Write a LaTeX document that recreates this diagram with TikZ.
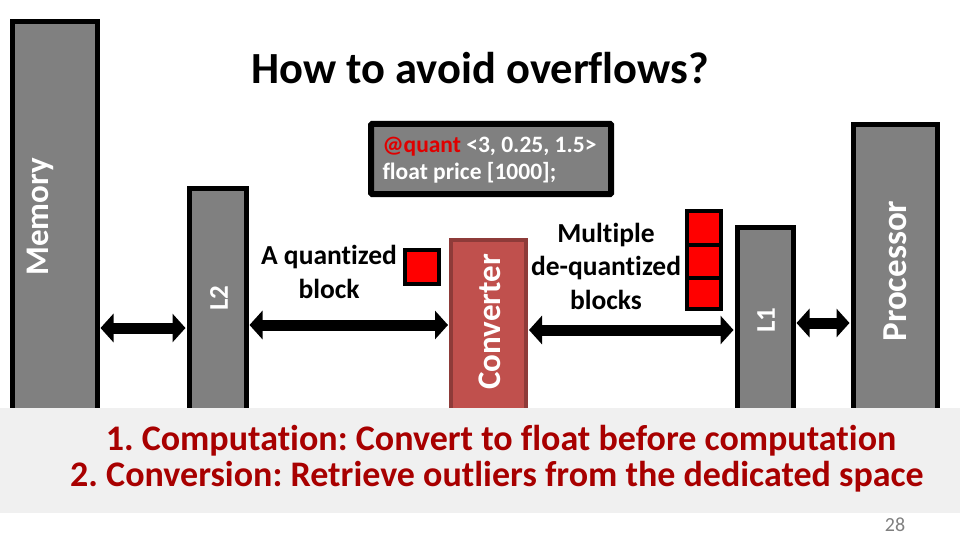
\documentclass[tikz,border=0pt]{standalone}
\usepackage{fontspec}
\setmainfont{Carlito}[Ligatures=NoCommon]
\usetikzlibrary{arrows.meta}
\frenchspacing
\definecolor{boxgray}{HTML}{808080}
\definecolor{bandgray}{HTML}{F0F0F0}
\definecolor{convred}{HTML}{C0504D}
\definecolor{convedge}{HTML}{8E3B39}
\definecolor{textred}{HTML}{A80000}
\definecolor{quantred}{HTML}{E00000}
\definecolor{pagegray}{HTML}{7F7F7F}
\tikzset{
  unitbox/.style={draw=black, line width=5pt, fill=boxgray},
  boxlabel/.style={text=white, font=\bfseries\fontsize{33}{38}\selectfont, rotate=90},
  smalllabel/.style={text=white, font=\bfseries\fontsize{27}{32}\selectfont, rotate=90},
  bigarrow/.style={line width=11pt, {Triangle[length=13pt,width=28pt]}-{Triangle[length=13pt,width=28pt]}, shorten <=1pt, shorten >=1pt},
  blockcell/.style={draw=black, line width=4pt, fill=red},
  midtext/.style={font=\bfseries\fontsize{27.5}{33.5}\selectfont, align=center, text=black},
  redline/.style={text=textred, font=\bfseries\fontsize{36}{38}\selectfont},
}
\begin{document}
\begin{tikzpicture}[x=1pt,y=-1pt]
\useasboundingbox (0,0) rectangle (960,540);
% boxes
\draw[unitbox] (12,22) rectangle (97,420);
\node[boxlabel] (memlab) at (40,217) {Memory};
\draw[unitbox] (189,188) rectangle (246,420);
\node[smalllabel] (l2lab) at (219,298) {L2};
\draw[draw=convedge, line width=3.5pt, fill=convred] (451,240) rectangle (526,420);
\node[boxlabel] (convlab) at (490,322) {Converter};
\draw[unitbox] (737,227) rectangle (793,420);
\node[smalllabel] (l1lab) at (766,320) {L1};
\draw[unitbox] (853,125) rectangle (937,420);
\node[boxlabel, font=\bfseries\fontsize{35}{40}\selectfont] (proclab) at (895,271) {Processor};
% anchors for arrows
\coordinate (memR) at (99.5,328);
\coordinate (l2L) at (186.5,328);
\coordinate (l2R) at (248.5,325);
\coordinate (convL) at (449,325);
\coordinate (convR) at (528,330);
\coordinate (l1L) at (734.5,330);
\coordinate (l1R) at (795.5,323);
\coordinate (procL) at (850.5,323);
\draw[bigarrow] (memR) -- (l2L);
\draw[bigarrow] (l2R) -- (convL);
\draw[bigarrow] (convR) -- (l1L);
\draw[bigarrow] (l1R) -- (procL);
% code box
\draw[draw=black, line width=6pt, fill=boxgray, rounded corners=1pt] (371,124) rectangle (611,194);
\node[anchor=west, text=white, font=\bfseries\fontsize{23.5}{27}\selectfont, align=left] (code) at (379,160)
  {\textcolor{quantred}{@quant} <3, 0.25, 1.5>\\float price [1000];};
% labels
\node[midtext] (qlab) at (329,272) {A quantized\\block};
\node[midtext] (mlab) at (606,266) {Multiple\\de-quantized\\blocks};
% blocks
\draw[blockcell] (405,250) rectangle (439,284);
\draw[blockcell] (687,211) rectangle (721,245);
\draw[blockcell] (687,245) rectangle (721,278);
\draw[blockcell] (687,278) rectangle (721,309);
% title
\node[font=\bfseries\fontsize{44.5}{50}\selectfont] (title) at (480,68) {How to avoid overflows?};
% band
\fill[bandgray] (0,408) rectangle (960,513);
\node[redline] (l1txt) at (501,441) {1. Computation: Convert to float before computation};
\node[redline] (l2txt) at (497,477) {2. Conversion: Retrieve outliers from the dedicated space};
\node[text=pagegray, font=\fontsize{20}{22}\selectfont] (page) at (895,525) {28};
\end{tikzpicture}
\end{document}
